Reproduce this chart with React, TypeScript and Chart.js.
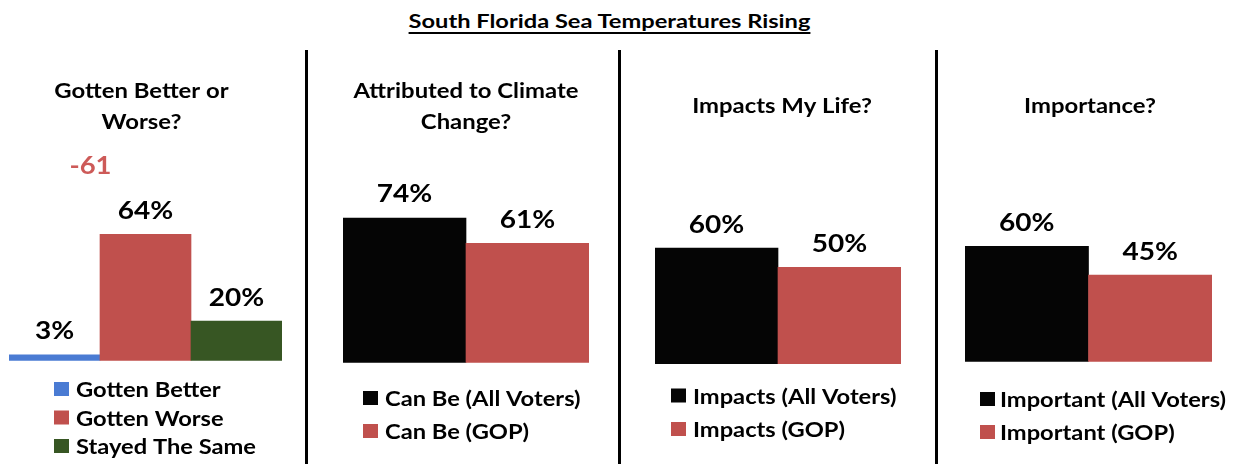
import React, { useEffect, useRef } from "react";
import { Chart, registerables } from "chart.js";

Chart.register(...registerables);

// ---------------- data ----------------
const mainTitle = "South Florida Sea Temperatures Rising";

const p1Title = ["Gotten Better or", "Worse?"];
const p1Categories = ["Gotten Better", "Gotten Worse", "Stayed The Same"];
const p1Values = [3, 64, 20];
const p1Colors = ["#4A7BD3", "#C0504D", "#375623"];
const p1Net = "-61";

const p2Title = ["Attributed to Climate", "Change?"];
const p2Categories = ["Can Be (All Voters)", "Can Be (GOP)"];
const p2Values = [74, 61];

const p3Title = ["Impacts My Life?"];
const p3Categories = ["Impacts (All Voters)", "Impacts (GOP)"];
const p3Values = [60, 50];

const p4Title = ["Importance?"];
const p4Categories = ["Important (All Voters)", "Important (GOP)"];
const p4Values = [60, 45];

const pairColors = ["#050505", "#C0504D"];

// ---------------- layout ----------------
const W = 1237;
const H = 464;
const FONT = "Lato, 'Open Sans', sans-serif";

const TITLE_FONT = `bold 21.5px ${FONT}`;
const TITLE_SX = 1.11;
const LABEL_FONT = `bold 25px ${FONT}`;
const LABEL_SX = 1.12;
const LEGEND_FONT = `bold 20.5px ${FONT}`;
const LEGEND_SX = 1.155;

type PanelCfg = {
  left: number;
  width: number;
  area: { l: number; r: number; t: number; b: number };
  title: string[];
  titleX: number;
  titleBaselines: number[];
  categories: string[];
  values: number[];
  colors: string[];
  legend: { sqX: number; textX: number; baselines: number[] };
  note?: { text: string; x: number; y: number; color: string };
};

const panels: PanelCfg[] = [
  {
    left: 0,
    width: 305,
    area: { l: 9, r: 282, t: 163.2, b: 360.7 },
    title: p1Title,
    titleX: 141.5,
    titleBaselines: [97.5, 129],
    categories: p1Categories,
    values: p1Values,
    colors: p1Colors,
    legend: { sqX: 54, textX: 76, baselines: [397, 425.5, 454] },
    note: { text: p1Net, x: 90.5, y: 174, color: "#CD5A58" },
  },
  {
    left: 308,
    width: 309,
    area: { l: 343, r: 589, t: 167.1, b: 362.7 },
    title: p2Title,
    titleX: 466,
    titleBaselines: [98, 129],
    categories: p2Categories,
    values: p2Values,
    colors: pairColors,
    legend: { sqX: 363, textX: 385, baselines: [406, 439] },
  },
  {
    left: 621,
    width: 313,
    area: { l: 655, r: 901, t: 170.7, b: 364 },
    title: p3Title,
    titleX: 782,
    titleBaselines: [113],
    categories: p3Categories,
    values: p3Values,
    colors: pairColors,
    legend: { sqX: 671, textX: 693, baselines: [403.5, 437] },
  },
  {
    left: 938,
    width: 299,
    area: { l: 965, r: 1212, t: 169.3, b: 361.7 },
    title: p4Title,
    titleX: 1090,
    titleBaselines: [113],
    categories: p4Categories,
    values: p4Values,
    colors: pairColors,
    legend: { sqX: 980, textX: 1000, baselines: [407, 440] },
  },
];

function drawText(
  ctx: CanvasRenderingContext2D,
  text: string,
  x: number,
  y: number,
  sx: number
) {
  ctx.save();
  ctx.translate(x, y);
  ctx.scale(sx, 1);
  ctx.fillText(text, 0, 0);
  ctx.restore();
}

function Panel({ cfg }: { cfg: PanelCfg }) {
  const ref = useRef<HTMLCanvasElement | null>(null);

  useEffect(() => {
    const canvas = ref.current;
    if (!canvas) return;
    const off = cfg.left;

    const decor = {
      id: "panelDecor",
      afterDraw(chart: any) {
        const ctx = chart.ctx as CanvasRenderingContext2D;
        ctx.save();
        ctx.textBaseline = "alphabetic";
        // panel title
        ctx.fillStyle = "#000";
        ctx.font = TITLE_FONT;
        ctx.textAlign = "center";
        cfg.title.forEach((line, i) => {
          drawText(ctx, line, cfg.titleX - off, cfg.titleBaselines[i], TITLE_SX);
        });
        // data labels
        ctx.font = LABEL_FONT;
        const meta = chart.getDatasetMeta(0);
        meta.data.forEach((bar: any, i: number) => {
          drawText(ctx, `${cfg.values[i]}%`, bar.x, bar.y - 15.5, LABEL_SX);
        });
        // note
        if (cfg.note) {
          ctx.fillStyle = cfg.note.color;
          ctx.font = `bold 24.5px ${FONT}`;
          drawText(ctx, cfg.note.text, cfg.note.x - off, cfg.note.y, 1.12);
        }
        // legend
        ctx.textAlign = "left";
        ctx.font = LEGEND_FONT;
        cfg.categories.forEach((c, i) => {
          const by = cfg.legend.baselines[i];
          ctx.fillStyle = cfg.colors[i];
          ctx.fillRect(cfg.legend.sqX - off, by - 15, 15, 14);
          ctx.fillStyle = "#000";
          drawText(ctx, c, cfg.legend.textX - off, by, LEGEND_SX);
        });
        ctx.restore();
      },
    };

    const chart = new Chart(canvas, {
      type: "bar",
      data: {
        labels: cfg.categories,
        datasets: [
          {
            data: cfg.values,
            backgroundColor: cfg.colors,
            borderWidth: 0,
            barPercentage: 1,
            categoryPercentage: 1,
          },
        ],
      },
      options: {
        responsive: false,
        maintainAspectRatio: false,
        animation: false,
        layout: {
          padding: {
            left: cfg.area.l - off,
            right: off + cfg.width - cfg.area.r,
            top: cfg.area.t,
            bottom: H - cfg.area.b,
          },
        },
        scales: {
          x: { display: false },
          y: { display: false, min: 0, max: 100 },
        },
        plugins: {
          legend: { display: false },
          tooltip: { enabled: false },
          title: { display: false },
        },
      },
      plugins: [decor],
    });

    let alive = true;
    if ((document as any).fonts && (document as any).fonts.load) {
      (document as any).fonts.load(`bold 20px Lato`).then(() => {
        if (alive) chart.draw();
      });
    }

    return () => {
      alive = false;
      chart.destroy();
    };
  }, [cfg]);

  return (
    <canvas
      ref={ref}
      width={cfg.width}
      height={H}
      style={{
        position: "absolute",
        left: cfg.left,
        top: 0,
        width: cfg.width,
        height: H,
      }}
    />
  );
}

const separators = [305, 617.5, 934.5];

export default function App() {
  return (
    <div
      style={{
        position: "fixed",
        left: 0,
        top: 0,
        width: W,
        height: H,
        background: "#fff",
        overflow: "hidden",
      }}
    >
      <div
        style={{
          position: "absolute",
          left: 0,
          top: 10.5,
          width: 1219,
          textAlign: "center",
          fontFamily: FONT,
          fontWeight: "bold",
          fontSize: 18.7,
          lineHeight: "20px",
          color: "#000",
          textDecoration: "underline",
          textDecorationThickness: "2px",
          textUnderlineOffset: "4px",
          transform: "scaleX(1.265)",
          transformOrigin: "609.5px 0",
        }}
      >
        {mainTitle}
      </div>
      {separators.map((x) => (
        <div
          key={x}
          style={{
            position: "absolute",
            left: x,
            top: 50,
            width: 3,
            height: H - 50,
            background: "#000",
          }}
        />
      ))}
      {panels.map((p, i) => (
        <Panel key={i} cfg={p} />
      ))}
    </div>
  );
}
